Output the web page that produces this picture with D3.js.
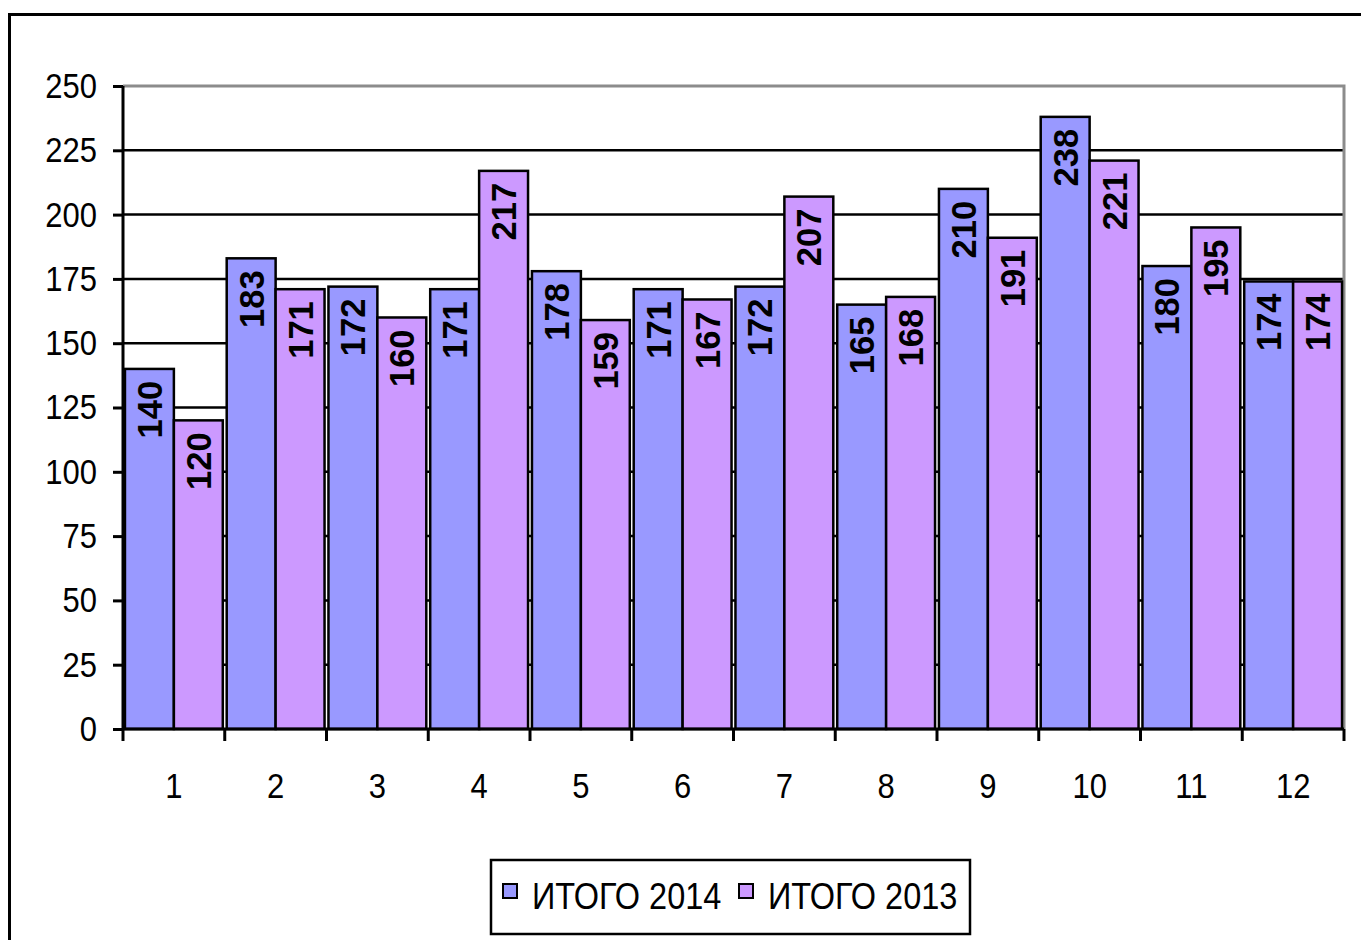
<!DOCTYPE html>
<html>
<head>
<meta charset="utf-8">
<script src="https://cdn.jsdelivr.net/npm/d3@7/dist/d3.min.js"></script>
<style>
  html, body { margin: 0; padding: 0; background: #fff; }
  svg { display: block; font-family: "Liberation Sans", Arial, sans-serif; }
</style>
</head>
<body>
<svg id="chart" width="1361" height="940"></svg>
<script>
const categories = ["1","2","3","4","5","6","7","8","9","10","11","12"];
const seriesNames = ["ИТОГО 2014", "ИТОГО 2013"];
const values2014 = [140, 183, 172, 171, 178, 171, 172, 165, 210, 238, 180, 174];
const values2013 = [120, 171, 160, 217, 159, 167, 207, 168, 191, 221, 195, 174];
const yTicks = [0, 25, 50, 75, 100, 125, 150, 175, 200, 225, 250];
const colors = ["#9999FF", "#CC99FF"];

(function () {
const seriesValues = [values2014, values2013];
const svg = d3.select("#chart");

// Outer frame
svg.append("rect").attr("x", 9.5).attr("y", 14.5).attr("width", 1400).attr("height", 1000)
  .attr("fill", "#fff").attr("stroke", "#000").attr("stroke-width", 3);

const pLeft = 123, pRight = 1344, pTop = 86, pBottom = 729;
const x = d3.scaleBand().domain(categories).range([pLeft, pRight]).padding(0);
const xi = d3.scaleBand().domain(seriesNames).range([0, x.bandwidth()]).paddingOuter(0.04).paddingInner(0);
const y = d3.scaleLinear().domain([0, 250]).range([pBottom, pTop]);

// gridlines
svg.append("g").selectAll("line").data(yTicks.filter(t => t > 0 && t < 250)).join("line")
  .attr("x1", pLeft).attr("x2", pRight).attr("y1", d => y(d)).attr("y2", d => y(d))
  .attr("stroke", "#000").attr("stroke-width", 2.5);

// plot border top/right gray
svg.append("path")
  .attr("d", `M${pLeft},${y(250)}H${pRight}V${pBottom}`)
  .attr("fill", "none").attr("stroke", "#8c8c8c").attr("stroke-width", 3);

// bars
const groups = svg.append("g").selectAll("g").data(categories).join("g")
  .attr("transform", d => `translate(${x(d)},0)`);

const rows = (d, i) => seriesNames.map((s, k) => ({s, k, v: seriesValues[k][i]}));

groups.selectAll("rect").data(rows).join("rect")
  .attr("x", d => xi(d.s)).attr("width", xi.bandwidth())
  .attr("y", d => y(d.v)).attr("height", d => y(0) - y(d.v))
  .attr("fill", d => colors[d.k]).attr("stroke", "#000").attr("stroke-width", 2.5);

groups.selectAll("text").data(rows).join("text")
  .attr("transform", d => `translate(${xi(d.s) + xi.bandwidth() / 2},${y(d.v) + 12}) rotate(-90)`)
  .attr("text-anchor", "end").attr("dy", "0.36em")
  .attr("font-weight", "bold").attr("font-size", 34.5).attr("fill", "#000")
  .text(d => d.v);

// y axis
const yAxis = svg.append("g").attr("transform", `translate(${pLeft},0)`)
  .call(d3.axisLeft(y).tickValues(yTicks).tickSize(10).tickPadding(16).tickFormat(d3.format("d")));
yAxis.select(".domain").attr("stroke", "#000").attr("stroke-width", 3).attr("d", `M0,${pTop}V${pBottom}`);
yAxis.selectAll(".tick line").attr("stroke", "#000").attr("stroke-width", 3);
yAxis.selectAll(".tick text").attr("font-size", 31).attr("fill", "#000")
  .attr("font-family", "Liberation Sans, Arial, sans-serif")
  .attr("dy", "0.33em").attr("transform", "scale(1,1.12)");

// x axis
const xAxis = svg.append("g").attr("transform", `translate(0,${pBottom})`)
  .call(d3.axisBottom(x).tickSize(0).tickPadding(0));
xAxis.select(".domain").attr("stroke", "#000").attr("stroke-width", 3).attr("d", `M${pLeft},0H${pRight}`);
xAxis.selectAll(".tick text").attr("font-size", 31).attr("fill", "#000")
  .attr("font-family", "Liberation Sans, Arial, sans-serif")
  .attr("y", 62).attr("dy", 0).attr("transform", "scale(1,1.12)");
// boundary tick marks
const bounds = categories.map(c => x(c)).concat([pRight]);
xAxis.append("g").selectAll("line").data(bounds).join("line")
  .attr("x1", d => d).attr("x2", d => d)
  .attr("y1", 0).attr("y2", 12).attr("stroke", "#000").attr("stroke-width", 3);

// legend
const lg = svg.append("g");
lg.append("rect").attr("x", 491).attr("y", 860).attr("width", 479).attr("height", 74)
  .attr("fill", "#fff").attr("stroke", "#000").attr("stroke-width", 2.5);
const legendX = [503, 739];
seriesNames.forEach((s, k) => {
  const lx = legendX[k];
  lg.append("rect").attr("x", lx).attr("y", 884).attr("width", 14).attr("height", 14)
    .attr("fill", colors[k]).attr("stroke", "#000").attr("stroke-width", 2);
  lg.append("text").attr("transform", `translate(${lx + 29},909) scale(1,1.12)`)
    .attr("font-size", 32.5).attr("fill", "#000").text(s);
});
})();
</script>
</body>
</html>
